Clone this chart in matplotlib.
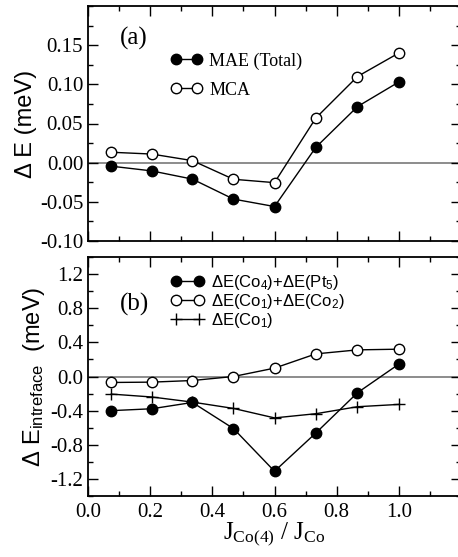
import matplotlib
matplotlib.use("Agg")
import matplotlib.pyplot as plt
from matplotlib.ticker import MultipleLocator, FixedLocator

plt.rcParams["mathtext.fontset"] = "custom"
plt.rcParams["mathtext.rm"] = "Liberation Serif"
plt.rcParams["mathtext.sf"] = "Liberation Sans"
plt.rcParams["mathtext.it"] = "Liberation Serif:italic"

SERIF = "Liberation Serif"
SANS = "Liberation Sans"

# J_Co(4) / J_Co
j_ratio = [0.075, 0.205, 0.336, 0.468, 0.600, 0.733, 0.867, 1.000]

# (a) anisotropy energies, meV
mae_total = [-0.0045, -0.0105, -0.021, -0.0465, -0.056, 0.0196, 0.0716, 0.103]
mca = [0.0133, 0.011, 0.0026, -0.0212, -0.0255, 0.057, 0.110, 0.140]

# (b) interface contributions, meV
de_co4_pt5 = [-0.40, -0.378, -0.304, -0.61, -1.11, -0.662, -0.19, 0.145]
de_co1_co2 = [-0.070, -0.066, -0.047, 0.000, 0.098, 0.265, 0.312, 0.320]
de_co1 = [-0.206, -0.240, -0.300, -0.374, -0.485, -0.436, -0.354, -0.327]

x_ticks = [0.0, 0.2, 0.4, 0.6, 0.8, 1.0]
x_tick_labels = ["0.0", "0.2", "0.4", "0.6", "0.8", "1.0"]
a_ticks = [-0.10, -0.05, 0.00, 0.05, 0.10, 0.15]
a_tick_labels = ["-0.10", "-0.05", "0.00", "0.05", "0.10", "0.15"]
b_ticks = [-1.2, -0.8, -0.4, 0.0, 0.4, 0.8, 1.2]
b_tick_labels = ["-1.2", "-0.8", "-0.4", "0.0", "0.4", "0.8", "1.2"]

W, H = 458, 557
fig = plt.figure(figsize=(W / 100, H / 100), dpi=100)

def px_axes(left, top, right, bottom):
    return fig.add_axes([left / W, 1 - bottom / H, (right - left) / W, (bottom - top) / H])

ax_a = px_axes(88, 6, 461, 241)
ax_b = px_axes(88, 257, 461, 496)

line_kw = dict(color="black", lw=1.0)
filled = dict(marker="o", ms=7.5, mfc="black", mec="black", mew=1.0)
hollow = dict(marker="o", ms=7.5, mfc="white", mec="black", mew=1.0)
cross = dict(marker="+", ms=9, mec="black", mew=1.0)

for ax in (ax_a, ax_b):
    ax.axhline(0.0, color="#6e6e6e", lw=1.1, zorder=1)
    ax.set_xlim(0.0, 1.2)
    ax.xaxis.set_major_locator(FixedLocator(x_ticks))
    ax.xaxis.set_minor_locator(MultipleLocator(0.1))
    ax.tick_params(which="both", direction="in", top=True, right=True, width=1.0)
    ax.tick_params(which="major", length=7)
    ax.tick_params(which="minor", length=3.5)
    for s in ax.spines.values():
        s.set_linewidth(1.3)

# panel (a)
ax_a.plot(j_ratio, mae_total, label="MAE (Total)", zorder=3, **line_kw, **filled)
ax_a.plot(j_ratio, mca, label="MCA", zorder=3, **line_kw, **hollow)
ax_a.set_ylim(-0.10, 0.20)
ax_a.yaxis.set_major_locator(FixedLocator(a_ticks))
ax_a.yaxis.set_minor_locator(MultipleLocator(0.025))
ax_a.set_yticklabels(a_tick_labels, fontfamily=SERIF, fontsize=15)
ax_a.set_xticklabels([])
ax_a.set_ylabel("Δ E (meV)", fontfamily=SANS, fontsize=17, labelpad=2)
ax_a.text(0.086, 0.86, "(a)", transform=ax_a.transAxes, fontfamily=SERIF,
          fontsize=18, ha="left", va="center")
leg_a = ax_a.legend(loc="upper left", bbox_to_anchor=(170.6 / W, 1 - 52.5 / H),
                    bbox_transform=fig.transFigure, frameon=False, numpoints=2,
                    handlelength=1.75, handletextpad=0.4, labelspacing=0.65,
                    borderpad=0, borderaxespad=0,
                    prop=dict(family=SERIF, size=13))

# panel (b)
ax_b.plot(j_ratio, de_co4_pt5, label="ΔE(Co$_{\\mathsf{4}}$)+ΔE(Pt$_{\\mathsf{5}}$)",
          zorder=3, **line_kw, **filled)
ax_b.plot(j_ratio, de_co1_co2, label="ΔE(Co$_{\\mathsf{1}}$)+ΔE(Co$_{\\mathsf{2}}$)",
          zorder=3, **line_kw, **hollow)
ax_b.plot(j_ratio, de_co1, label="ΔE(Co$_{\\mathsf{1}}$)", zorder=3, **line_kw, **cross)
ax_b.set_ylim(-1.4, 1.4)
ax_b.yaxis.set_major_locator(FixedLocator(b_ticks))
ax_b.yaxis.set_minor_locator(MultipleLocator(0.2))
ax_b.set_yticklabels(b_tick_labels, fontfamily=SERIF, fontsize=15)
ax_b.set_xticklabels(x_tick_labels, fontfamily=SERIF, fontsize=15)
ax_b.tick_params(axis="x", which="major", pad=5)
ax_b.set_ylabel("Δ E$_{\\mathsf{intreface}}$  (meV)", fontfamily=SANS, fontsize=17,
                labelpad=2)
ax_b.set_xlabel("J$_{\\mathrm{Co(4)}}$ / J$_{\\mathrm{Co}}$", fontfamily=SERIF,
                fontsize=18, labelpad=-1)
ax_b.text(0.086, 0.80, "(b)", transform=ax_b.transAxes, fontfamily=SERIF,
          fontsize=18, ha="left", va="center")
leg_b = ax_b.legend(loc="upper left", bbox_to_anchor=(171.4 / W, 1 - 273 / H),
                    bbox_transform=fig.transFigure, frameon=False, numpoints=2,
                    handlelength=1.95, handletextpad=0.45, labelspacing=0.0,
                    borderpad=0, borderaxespad=0,
                    prop=dict(family=SANS, size=12))

fig.savefig("out.png", dpi=100)
